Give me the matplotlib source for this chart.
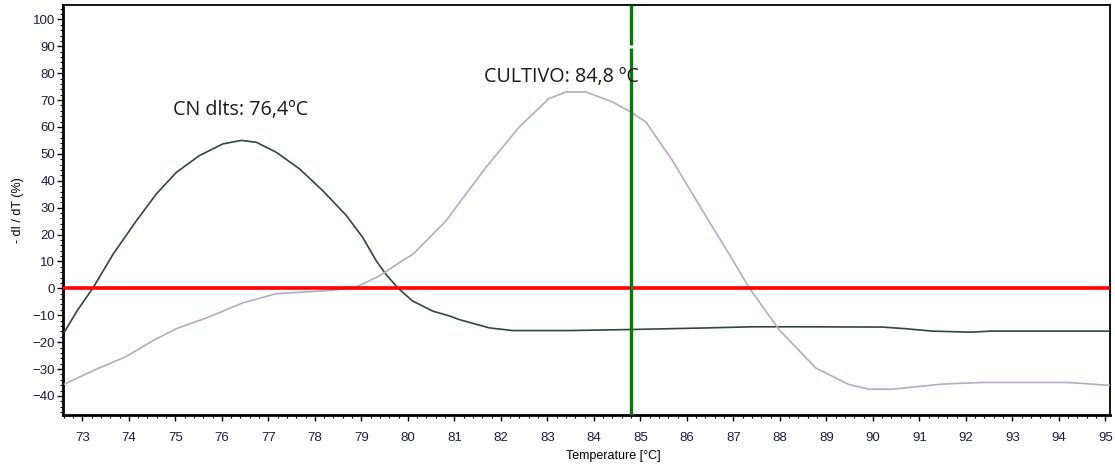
import matplotlib
matplotlib.use("Agg")
import matplotlib.pyplot as plt
from matplotlib.ticker import MultipleLocator

# ---- data ----
cn_temp = [72.62, 72.9, 73.23, 73.66, 74.16, 74.59, 75.02, 75.52, 76.02, 76.42,
           76.74, 77.17, 77.67, 78.17, 78.68, 79.03, 79.32, 79.53, 79.78, 80.1,
           80.54, 80.9, 81.1, 81.75, 82.25, 83.47, 84.83, 86.48, 87.4, 88.4,
           90.2, 90.7, 91.27, 92.1, 92.55, 95.1]
cn_vals = [-16.0, -8.0, 0.2, 12.7, 25.1, 35.1, 43.1, 49.4, 53.7, 55.0,
           54.3, 50.6, 44.4, 36.3, 27.0, 18.9, 10.2, 5.2, 0.2, -4.7,
           -8.5, -10.3, -11.6, -14.7, -15.7, -15.7, -15.3, -14.7, -14.3, -14.3,
           -14.4, -15.0, -15.9, -16.3, -15.9, -15.9]

cult_temp = [72.62, 73.23, 73.95, 74.52, 75.02, 75.67, 76.45, 77.17, 78.39, 78.89,
             79.39, 79.82, 80.11, 80.82, 81.68, 82.39, 83.03, 83.4, 83.83, 84.4,
             84.8, 85.12, 85.69, 86.34, 86.91, 87.34, 87.98, 88.77, 89.49, 89.92,
             90.42, 91.49, 92.35, 94.2, 95.1]
cult_vals = [-35.6, -30.6, -25.3, -19.4, -15.0, -11.0, -5.4, -2.0, -0.7, 0.5,
             4.6, 9.6, 12.7, 25.1, 45.0, 59.9, 70.5, 73.0, 73.0, 69.3,
             65.5, 61.8, 47.5, 28.8, 12.7, 0.2, -15.3, -29.6, -35.8, -37.5,
             -37.5, -35.6, -35.0, -35.0, -36.1]

threshold = 0
marker_temp = 84.8
labels = ["CN dlts: 76,4ºC", "CULTIVO: 84,8 ºC"]
label_pos = [(76.4, 66.3), (83.3, 78.6)]

xticks = list(range(73, 96))
yticks = list(range(-40, 101, 10))

plt.rcParams['font.family'] = ['Liberation Sans', 'DejaVu Sans']

fig = plt.figure(figsize=(11.15, 4.65), dpi=100)
ax = fig.add_axes([0.0568, 0.1075, 0.9387, 0.8815])

ylo, yhi = -47.1, 105.3
ax.set_xlim(72.59, 95.1)
ax.set_ylim(ylo, yhi)

ax.plot(cn_temp, cn_vals, color='#2e4a34', lw=1.2, zorder=3)
ax.plot(cult_temp, cult_vals, color='#b9a9c1', lw=1.2, zorder=3)

ax.axhline(threshold, color='#ff0000', lw=2.6, zorder=4)
ax.axvline(marker_temp, ymin=0, ymax=(89.3 - ylo) / (yhi - ylo), color='#008000',
           lw=2.4, zorder=5, solid_capstyle='butt')
ax.axvline(marker_temp, ymin=(90.5 - ylo) / (yhi - ylo), ymax=1, color='#008000',
           lw=2.4, zorder=5, solid_capstyle='butt')

txt_font = ['Open Sans', 'DejaVu Sans']
for (x, y), s in zip(label_pos, labels):
    ax.text(x, y, s, ha='center', va='center', fontsize=14.2, family=txt_font,
            color='#1a1a1a', zorder=6)

ax.set_xticks(xticks)
ax.set_yticks(yticks)
ax.xaxis.set_minor_locator(MultipleLocator(0.2))
ax.yaxis.set_minor_locator(MultipleLocator(2))
ax.tick_params(axis='both', which='major', labelsize=9.5, length=4, width=1,
               colors='black', labelcolor='#1c1c3a')
ax.tick_params(axis='both', which='minor', length=2, width=0.8)
ax.tick_params(axis='x', pad=8)
ax.tick_params(axis='y', pad=2)

for side in ['left', 'bottom']:
    ax.spines[side].set_linewidth(2)
for side in ['top', 'right']:
    ax.spines[side].set_linewidth(1.3)

ax.set_xlabel('Temperature [°C]', fontsize=9)
ax.xaxis.set_label_coords(0.525, -0.085)
ax.set_ylabel('- dI / dT (%)', fontsize=9, labelpad=6)

fig.savefig('out.png', dpi=100)
